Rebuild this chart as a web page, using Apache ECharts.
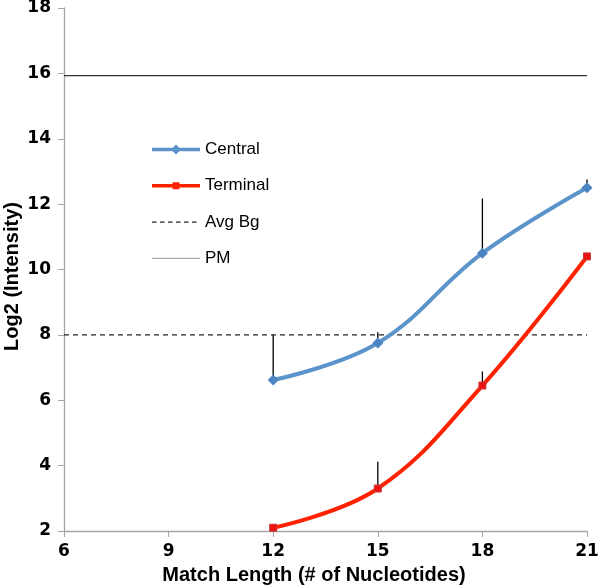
<!DOCTYPE html>
<html><head><meta charset="utf-8">
<script src="https://cdn.jsdelivr.net/npm/echarts@6/dist/echarts.min.js"></script>
<style>html,body{margin:0;padding:0;background:#fff}#c{width:600px;height:586px}</style>
</head><body><div id="c"></div>
<script>
const xValues = [12, 15, 18, 21];
const centralValues = [6.62, 7.75, 10.5, 12.5];
const centralErrTop = [8.0, 8.08, 12.17, 12.75];
const terminalValues = [2.1, 3.3, 6.45, 10.4];
const terminalErrTop = [2.1, 4.12, 6.88, 10.4];
const avgBg = 8;
const pm = 15.93;
const xRange = [6, 21];

const chart = echarts.init(document.getElementById('c'));
const pair = (xs, ys) => xs.map((x, i) => [x, ys[i]]);
const errData = (xs, lo, hi) => xs.map((x, i) => [x, lo[i], hi[i]]);
const errSeries = (data) => ({
  type: 'custom', silent: true, z: 1,
  renderItem: (params, api) => {
    const p0 = api.coord([api.value(0), api.value(1)]);
    const p1 = api.coord([api.value(0), api.value(2)]);
    return { type: 'line', shape: {x1: p0[0], y1: p0[1], x2: p1[0], y2: p1[1]},
      style: {stroke: '#000', lineWidth: 1.3} };
  },
  data: data
});
const font = 'Liberation Sans, Arial, sans-serif';
const tickFont = 'DejaVu Sans, sans-serif';
// legend icons (48 x 14 box); tiny corner points fix the bounding box
const box = 'M0,0L0.01,0L0,0.01Z M48,14L47.99,14L48,13.99Z ';
const iconCentral = 'path://' + box + 'M0,5.3L48,5.3L48,8.7L0,8.7Z M24,2L29,7L24,12L19,7Z';
const iconTerminal = 'path://' + box + 'M0,5.3L48,5.3L48,8.7L0,8.7Z M20.5,3.5L27.5,3.5L27.5,10.5L20.5,10.5Z';
let dash = '';
for (let x = 0; x < 48; x += 8) dash += 'M' + x + ',6.4L' + (x + 4.5) + ',6.4L' + (x + 4.5) + ',7.6L' + x + ',7.6Z ';
const iconAvg = 'path://' + box + dash;
const iconPM = 'path://' + box + 'M0,6.4L48,6.4L48,7.6L0,7.6Z';
const noBorder = {borderWidth: 0};
chart.setOption({
  animation: false,
  grid: {left: 64, right: 13, top: 8, bottom: 55, outerBoundsMode: 'none', containLabel: false},
  legend: {
    orient: 'vertical', left: 147, top: 136, itemGap: 19.3, itemWidth: 48, itemHeight: 14,
    textStyle: {fontFamily: font, fontSize: 17, color: '#000'},
    data: [
      {name: 'Central', icon: iconCentral, itemStyle: Object.assign({color: '#5b93cb'}, noBorder)},
      {name: 'Terminal', icon: iconTerminal, itemStyle: Object.assign({color: '#ff2200'}, noBorder)},
      {name: 'Avg Bg', icon: iconAvg, itemStyle: Object.assign({color: '#222'}, noBorder)},
      {name: 'PM', icon: iconPM, itemStyle: Object.assign({color: '#aaa'}, noBorder)}
    ]
  },
  xAxis: {
    type: 'value', min: 6, max: 21, interval: 3,
    name: 'Match Length (# of Nucleotides)', nameLocation: 'middle', nameGap: 34, nameMoveOverlap: false,
    nameTextStyle: {fontFamily: font, fontSize: 20, fontWeight: 'bold', color: '#000', padding: [0, 23, 0, 0]},
    axisLine: {lineStyle: {color: '#a6a6a6', width: 1.3}},
    axisTick: {show: true, length: 6, lineStyle: {color: '#a6a6a6'}},
    axisLabel: {fontFamily: tickFont, fontSize: 17, fontWeight: 'bold', color: '#000', margin: 12},
    splitLine: {show: false}
  },
  yAxis: {
    type: 'value', min: 2, max: 18, interval: 2,
    name: 'Log2 (Intensity)', nameLocation: 'middle', nameGap: 42, nameRotate: 90, nameMoveOverlap: false,
    nameTextStyle: {fontFamily: font, fontSize: 20, fontWeight: 'bold', color: '#000', padding: [0, 14, 0, 0]},
    axisLine: {show: true, lineStyle: {color: '#a6a6a6', width: 1.3}},
    axisTick: {show: true, length: 6, lineStyle: {color: '#a6a6a6'}},
    axisLabel: {fontFamily: tickFont, fontSize: 17, fontWeight: 'bold', color: '#000', margin: 13},
    splitLine: {show: false}
  },
  series: [
    errSeries(errData(xValues, centralValues, centralErrTop)),
    errSeries(errData(xValues, terminalValues, terminalErrTop)),
    {name: 'Avg Bg', type: 'line', symbol: 'none', data: pair(xRange, [avgBg, avgBg]),
     lineStyle: {color: '#222', width: 1.3, type: [5, 4]}, itemStyle: {color: '#222'}, z: 2},
    {name: 'PM', type: 'line', symbol: 'none', data: pair(xRange, [pm, pm]),
     lineStyle: {color: '#333', width: 1.3}, itemStyle: {color: '#aaa'}, z: 2},
    {name: 'Central', type: 'line', smooth: 0.4, symbol: 'diamond', symbolSize: 11,
     data: pair(xValues, centralValues),
     lineStyle: {color: '#5b93cb', width: 4}, itemStyle: {color: '#4a84c2'}, z: 3},
    {name: 'Terminal', type: 'line', smooth: 0.4, symbol: 'rect', symbolSize: 7,
     data: pair(xValues, terminalValues),
     lineStyle: {color: '#ff2200', width: 4}, itemStyle: {color: '#ee1111', borderColor: '#c83a3a', borderWidth: 1}, z: 3}
  ]
});
</script></body></html>
